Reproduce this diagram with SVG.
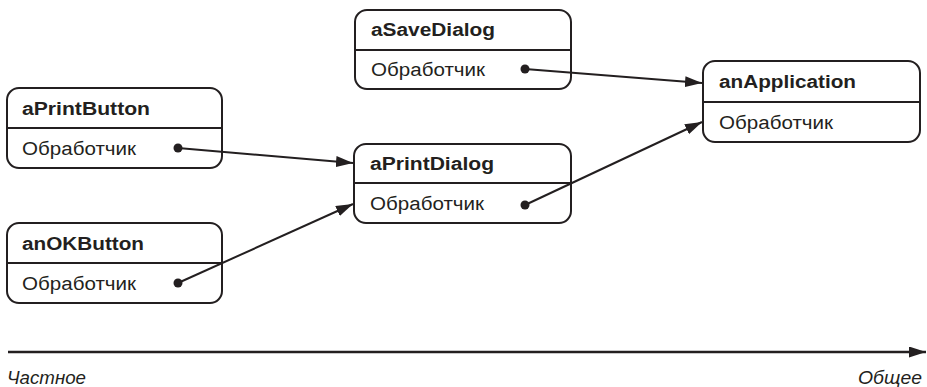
<svg xmlns="http://www.w3.org/2000/svg" width="927" height="387" viewBox="0 0 927 387">
  <style>
    .box { fill: #fff; stroke: #231f20; stroke-width: 2; }
    .div { stroke: #231f20; stroke-width: 2; }
    .title { font-family: "Liberation Sans", Arial, sans-serif; font-weight: bold; font-size: 18px; fill: #231f20; }
    .hdl { font-family: "Liberation Sans", Arial, sans-serif; font-size: 18px; fill: #231f20; }
    .conn { stroke: #231f20; stroke-width: 2; fill: none; }
    .dot { fill: #231f20; }
    .axislbl { font-family: "Liberation Sans", Arial, sans-serif; font-style: italic; font-size: 18px; fill: #231f20; }
  </style>
  <defs>
    <marker id="arr" markerUnits="userSpaceOnUse" markerWidth="18" markerHeight="12" refX="17" refY="5.5" orient="auto">
      <path d="M0,0 L17,5.5 L0,11 Z" fill="#231f20"/>
    </marker>
  </defs>

  <g id="aPrintButton">
    <rect class="box" x="7" y="88" width="215" height="80" rx="12"/>
    <line class="div" x1="7" y1="128" x2="222" y2="128"/>
    <text class="title" x="22" y="115" textLength="128" lengthAdjust="spacingAndGlyphs">aPrintButton</text>
    <text class="hdl" x="22" y="155" textLength="114" lengthAdjust="spacingAndGlyphs">Обработчик</text>
  </g>

  <g id="anOKButton">
    <rect class="box" x="7" y="223" width="215" height="80" rx="12"/>
    <line class="div" x1="7" y1="263" x2="222" y2="263"/>
    <text class="title" x="22" y="250" textLength="122" lengthAdjust="spacingAndGlyphs">anOKButton</text>
    <text class="hdl" x="22" y="290" textLength="114" lengthAdjust="spacingAndGlyphs">Обработчик</text>
  </g>

  <g id="aSaveDialog">
    <rect class="box" x="355" y="10" width="216" height="79" rx="12"/>
    <line class="div" x1="355" y1="50" x2="571" y2="50"/>
    <text class="title" x="371" y="36" textLength="124" lengthAdjust="spacingAndGlyphs">aSaveDialog</text>
    <text class="hdl" x="371" y="76" textLength="114" lengthAdjust="spacingAndGlyphs">Обработчик</text>
  </g>

  <g id="aPrintDialog">
    <rect class="box" x="354" y="144" width="217" height="79" rx="12"/>
    <line class="div" x1="354" y1="183" x2="571" y2="183"/>
    <text class="title" x="370" y="170" textLength="124" lengthAdjust="spacingAndGlyphs">aPrintDialog</text>
    <text class="hdl" x="370" y="210" textLength="114" lengthAdjust="spacingAndGlyphs">Обработчик</text>
  </g>

  <g id="anApplication">
    <rect class="box" x="703" y="61" width="217" height="81" rx="12"/>
    <line class="div" x1="703" y1="102" x2="920" y2="102"/>
    <text class="title" x="719" y="88" textLength="137" lengthAdjust="spacingAndGlyphs">anApplication</text>
    <text class="hdl" x="719" y="129" textLength="114" lengthAdjust="spacingAndGlyphs">Обработчик</text>
  </g>

  <g id="connectors">
    <line class="conn" x1="178" y1="148" x2="353" y2="163" marker-end="url(#arr)"/>
    <circle class="dot" cx="178" cy="148" r="4.5"/>
    <line class="conn" x1="178" y1="283" x2="353" y2="204" marker-end="url(#arr)"/>
    <circle class="dot" cx="178" cy="283" r="4.5"/>
    <line class="conn" x1="525" y1="69" x2="702" y2="83" marker-end="url(#arr)"/>
    <circle class="dot" cx="525" cy="69" r="4.5"/>
    <line class="conn" x1="525" y1="205" x2="702" y2="122" marker-end="url(#arr)"/>
    <circle class="dot" cx="525" cy="205" r="4.5"/>
  </g>

  <g id="axis">
    <line x1="8" y1="352" x2="926" y2="352" stroke="#231f20" stroke-width="2.5" marker-end="url(#arr)"/>
    <text class="axislbl" x="7" y="384" textLength="79" lengthAdjust="spacingAndGlyphs">Частное</text>
    <text class="axislbl" x="922" y="384" text-anchor="end" textLength="64" lengthAdjust="spacingAndGlyphs">Общее</text>
  </g>
</svg>
